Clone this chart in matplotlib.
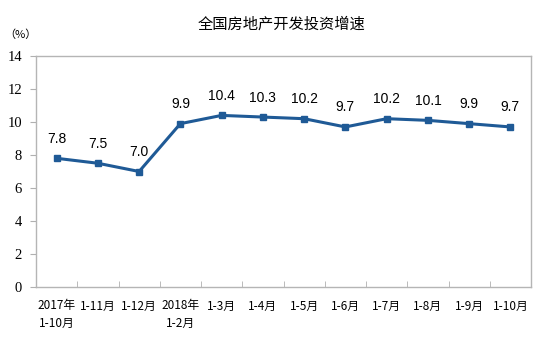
import matplotlib.pyplot as plt
import numpy as np

months = ["2017年\n1-10月", "1-11月", "1-12月", "2018年\n1-2月", "1-3月", "1-4月",
          "1-5月", "1-6月", "1-7月", "1-8月", "1-9月", "1-10月"]
growth = [7.8, 7.5, 7.0, 9.9, 10.4, 10.3, 10.2, 9.7, 10.2, 10.1, 9.9, 9.7]
yticks = [0, 2, 4, 6, 8, 10, 12, 14]

fig = plt.figure(figsize=(5.52, 3.38), dpi=100)
ax = fig.add_axes([36 / 552, 1 - 287 / 338, (531 - 36) / 552, (287 - 56) / 338])

x = np.arange(len(growth))
ax.plot(x, growth, color='#1f5a96', lw=2.2, marker='s', ms=5)
for xi, v in zip(x, growth):
    ax.annotate(f"{v:.1f}", (xi, v), xytext=(0, 9), textcoords='offset points',
                ha='center', va='bottom', fontsize=10, family='Liberation Sans')

ax.set_xlim(-0.5, len(growth) - 0.5)
ax.set_ylim(0, 14)
ax.set_yticks(yticks)
ax.set_yticklabels([str(t) for t in yticks], family='Liberation Serif', fontsize=10.5)
ax.set_xticks(x)
ax.set_xticklabels(months, family='Noto Sans CJK SC', fontsize=8.5, linespacing=1.45, va='top')
ax.set_xticks(np.arange(len(growth) + 1) - 0.5, minor=True)
ax.tick_params(axis='x', which='major', length=0, pad=9)
ax.tick_params(axis='x', which='minor', length=4, color='#b0b0b0', direction='in')
ax.tick_params(axis='y', length=4, color='#b0b0b0', pad=6)
for s in ax.spines.values():
    s.set_color('#b5b5b5')
    s.set_linewidth(1)

fig.text(0.51, 0.928, "全国房地产开发投资增速", ha='center', va='center',
         fontsize=11, family='Noto Sans CJK SC')
fig.text(0.008, 0.897, "（%）", ha='left', va='center', fontsize=8, family='Noto Sans CJK SC')

fig.savefig("out.png", dpi=100)
